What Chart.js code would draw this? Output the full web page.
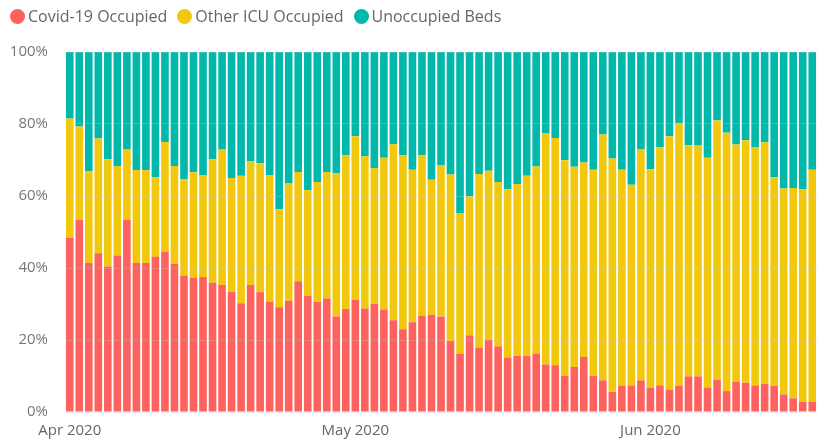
<!DOCTYPE html>
<html>
<head>
<meta charset="utf-8">
<script src="https://cdn.jsdelivr.net/npm/chart.js@4.4.1/dist/chart.umd.min.js"></script>
<style>
  html, body { margin: 0; padding: 0; background: #fff; }
  #wrap { position: relative; width: 818px; height: 440px; }
  #legend {
    position: absolute; left: 10px; top: 5px;
    display: flex; align-items: center;
    font: 16px "Open Sans", sans-serif; color: #666;
  }
  .legend-item { display: flex; align-items: center; margin-right: 10px; }
  .legend-dot { width: 15px; height: 15px; border-radius: 50%; margin-right: 3px; }
</style>
</head>
<body>
<div id="wrap">
  <div id="legend"></div>
  <canvas id="chart" width="818" height="440"></canvas>
</div>
<script>
const START_DAY = '2020-04-01';
const DAY_COUNT = 79;
const MONTH_TICKS = { '04': 'Apr 2020', '05': 'May 2020', '06': 'Jun 2020' };

// share of ICU beds, % of total, one entry per day
const covidOccupied = [
  48.3, 53.4, 41.4, 44.1, 40.4, 43.5, 53.4, 41.4, 41.4, 43.1,
  44.6, 41.2, 37.9, 37.3, 37.5, 35.9, 35.3, 33.3, 30.2, 35.3,
  33.3, 30.7, 29.1, 30.9, 36.3, 32.2, 30.6, 31.5, 26.5, 28.6,
  31.2, 28.7, 30.1, 28.5, 25.5, 23.0, 24.9, 26.7, 27.0, 26.5,
  19.7, 16.2, 21.3, 17.8, 20.0, 18.2, 15.1, 15.6, 15.6, 16.2,
  13.2, 13.0, 10.0, 12.5, 15.3, 10.0, 8.8, 5.6, 7.3, 7.4,
  8.8, 6.8, 7.4, 6.2, 7.3, 9.9, 9.9, 6.8, 8.9, 5.8,
  8.4, 8.1, 7.4, 7.9, 7.3, 4.9, 3.8, 2.9, 2.9
];
const otherOccupied = [
  33.2, 25.9, 25.5, 31.9, 29.8, 24.8, 19.5, 25.8, 25.8, 22.1,
  30.4, 27.1, 26.8, 29.3, 28.2, 34.3, 37.6, 31.7, 35.4, 34.4,
  35.8, 35.1, 27.2, 32.7, 30.4, 29.4, 33.3, 35.2, 39.8, 42.7,
  45.4, 42.4, 37.7, 42.1, 48.9, 48.3, 42.4, 44.6, 37.5, 42.1,
  46.3, 39.1, 38.6, 48.3, 47.0, 45.7, 46.8, 47.7, 50.0, 52.0,
  64.3, 63.1, 59.9, 55.6, 54.0, 57.3, 68.3, 64.8, 60.0, 55.7,
  64.1, 60.6, 66.1, 70.4, 73.0, 64.2, 64.1, 63.8, 72.1, 71.8,
  65.9, 67.4, 66.2, 67.0, 57.9, 57.2, 58.4, 59.0, 64.4
];
const unoccupiedBeds = [
  18.5, 20.7, 33.1, 24.0, 29.8, 31.7, 27.1, 32.8, 32.8, 34.8,
  25.0, 31.7, 35.3, 33.4, 34.3, 29.8, 27.1, 35.0, 34.4, 30.3,
  30.9, 34.2, 43.7, 36.4, 33.3, 38.4, 36.1, 33.3, 33.7, 28.7,
  23.4, 28.9, 32.2, 29.4, 25.6, 28.7, 32.7, 28.7, 35.5, 31.4,
  34.0, 44.7, 40.1, 33.9, 33.0, 36.1, 38.1, 36.7, 34.4, 31.8,
  22.5, 23.9, 30.1, 31.9, 30.7, 32.7, 22.9, 29.6, 32.7, 36.9,
  27.1, 32.6, 26.5, 23.4, 19.7, 25.9, 26.0, 29.4, 19.0, 22.4,
  25.7, 24.5, 26.4, 25.1, 34.8, 37.9, 37.8, 38.1, 32.7
];

const SERIES = [
  { label: 'Covid-19 Occupied', data: covidOccupied, color: '#FD625E' },
  { label: 'Other ICU Occupied', data: otherOccupied, color: '#F2C80F' },
  { label: 'Unoccupied Beds', data: unoccupiedBeds, color: '#01B8AA' },
];

function buildDays(start, count) {
  const out = [];
  const d = new Date(start + 'T00:00:00Z');
  for (let i = 0; i < count; i++) {
    out.push(d.toISOString().slice(0, 10));
    d.setUTCDate(d.getUTCDate() + 1);
  }
  return out;
}

const days = buildDays(START_DAY, DAY_COUNT);

document.getElementById('legend').innerHTML = SERIES.map(s =>
  `<div class="legend-item"><div class="legend-dot" style="background:${s.color}"></div>${s.label}</div>`
).join('');

const axisFont = { family: '"Open Sans", sans-serif', size: 15 };

new Chart(document.getElementById('chart'), {
  type: 'bar',
  data: {
    labels: days,
    datasets: SERIES.map(s => ({
      label: s.label,
      data: s.data,
      backgroundColor: s.color,
      borderWidth: 0,
      categoryPercentage: 1,
      barPercentage: 0.8,
    })),
  },
  options: {
    responsive: false,
    animation: false,
    layout: { padding: { top: 52, right: 1, bottom: 0, left: 0 } },
    plugins: {
      legend: { display: false },
      tooltip: { enabled: false },
    },
    scales: {
      x: {
        stacked: true,
        afterFit: scale => { scale.height = 28; },
        grid: { display: false },
        border: { display: false },
        ticks: {
          autoSkip: false,
          maxRotation: 0,
          padding: 2,
          color: '#666',
          font: axisFont,
          callback: function(value) {
            const day = days[value];
            return day.slice(8) === '01' ? MONTH_TICKS[day.slice(5, 7)] : '';
          },
        },
      },
      y: {
        stacked: true,
        min: 0,
        max: 100,
        afterFit: scale => { scale.width = 65; },
        border: { display: false },
        grid: { color: 'rgba(200, 200, 200, 0.3)', drawTicks: false, z: 1 },
        ticks: {
          stepSize: 20,
          padding: 17,
          color: '#777',
          font: axisFont,
          callback: v => v + '%',
        },
      },
    },
  },
});
</script>
</body>
</html>
